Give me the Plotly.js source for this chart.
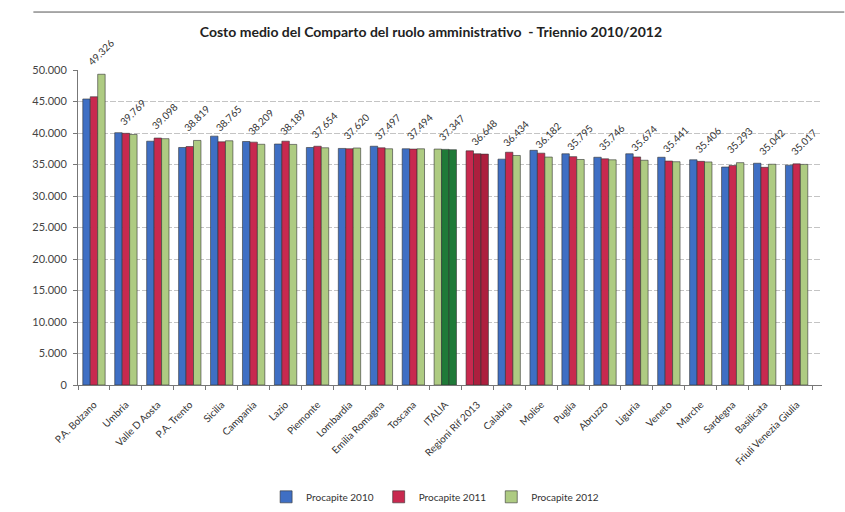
<!DOCTYPE html>
<html>
<head>
<meta charset="utf-8">
<script src="https://cdn.plot.ly/plotly-3.0.1.min.js"></script>
<style>html,body{margin:0;padding:0;background:#fff;}#chart{width:845px;height:512px;}</style>
</head>
<body>
<div id="chart"></div>
<script>
var categories = ["P.A. Bolzano","Umbria","Valle D Aosta","P.A. Trento","Sicilia","Campania","Lazio","Piemonte","Lombardia","Emilia Romagna","Toscana","ITALIA","Regioni Rif 2013","Calabria","Molise","Puglia","Abruzzo","Liguria","Veneto","Marche","Sardegna","Basilicata","Friuli Venezia Giulia"];
var procapite2010 = [45400,40050,38700,37700,39500,38650,38250,37700,37550,37900,37500,37450,37170,35850,37250,36700,36150,36700,36150,35750,34600,35200,34900];
var procapite2011 = [45750,39950,39200,37850,38600,38550,38700,37900,37500,37650,37450,37400,36700,36950,36800,36250,35900,36200,35550,35500,34850,34550,35100];
var procapite2012 = [49326,39769,39098,38819,38765,38209,38189,37654,37620,37497,37494,37347,36648,36434,36182,35795,35746,35674,35441,35406,35293,35042,35017];
var seriesNames = ["Procapite 2010","Procapite 2011","Procapite 2012"];
var yTicks = [0,5000,10000,15000,20000,25000,30000,35000,40000,45000,50000];

function fmt(v){ return String(Math.round(v)).replace(/\B(?=(\d{3})+(?!\d))/g, "."); }

var BLUE="#3f6fc4", RED="#c8294f", GREEN="#aecb82", DKGREEN="#1f7a38", DKRED="#ad1f3e";
var iItalia = categories.indexOf("ITALIA"), iReg = categories.indexOf("Regioni Rif 2013");
function colors(base, cItalia, cReg){
  return categories.map(function(c,i){ return i===iItalia?cItalia:(i===iReg?cReg:base); });
}
var traces = [
  {type:"bar", name:seriesNames[0], x:categories, y:procapite2010, marker:{color:colors(BLUE,GREEN,RED), line:{color:"#333",width:0.6}}},
  {type:"bar", name:seriesNames[1], x:categories, y:procapite2011, marker:{color:colors(RED,DKGREEN,DKRED), line:{color:"#333",width:0.6}}},
  {type:"bar", name:seriesNames[2], x:categories, y:procapite2012, marker:{color:colors(GREEN,DKGREEN,DKRED), line:{color:"#333",width:0.6}}}
];
var annotations = categories.map(function(c,i){
  return {x:c, y:procapite2012[i], xref:"x", yref:"y", text:fmt(procapite2012[i]), showarrow:false,
    textangle:-45, xanchor:"center", yanchor:"bottom", xshift:7, yshift:4,
    font:{family:"Lato, sans-serif", size:10, color:"#333"}};
});
var layout = {
  width:845, height:512,
  margin:{l:78, r:23, t:70, b:127, autoexpand:false},
  paper_bgcolor:"#fff", plot_bgcolor:"#fff",
  separators:",.",
  title:{text:"<b>Costo medio del Comparto del ruolo amministrativo  - Triennio 2010/2012</b>", x:0.51, xanchor:"center", y:0.937, yanchor:"middle",
    font:{family:"Lato, sans-serif", size:14, color:"#222"}},
  barmode:"group", bargap:0.3, bargroupgap:0,
  xaxis:{type:"category", tickangle:-45, showline:true, linecolor:"#777", ticks:"outside", tickson:"boundaries", ticklen:4, tickcolor:"#777",
    ticklabelstandoff:9, automargin:false,
    tickfont:{family:"Lato, sans-serif", size:10, color:"#333"}, showgrid:false},
  yaxis:{range:[0,50000], tickvals:yTicks, ticktext:yTicks.map(fmt), showline:true, linecolor:"#777", ticks:"outside", ticklen:4, tickcolor:"#777",
    ticklabelstandoff:4, automargin:false,
    gridcolor:"#c4c4c4", griddash:"6px,2px", gridwidth:1, zeroline:false,
    tickfont:{family:"Lato, sans-serif", size:11, color:"#444"}},
  legend:{orientation:"h", x:0.48, xanchor:"center", y:-0.355, yanchor:"middle", font:{family:"Lato, sans-serif", size:10, color:"#333"}, itemwidth:30},
  showlegend:true,
  annotations:annotations,
  shapes:[{type:"line", xref:"paper", yref:"paper", x0:-0.06, x1:1.03, y0:1.184, y1:1.184, line:{color:"#555", width:1}}]
};
Plotly.newPlot("chart", traces, layout, {displayModeBar:false, staticPlot:true});
</script>
</body>
</html>
